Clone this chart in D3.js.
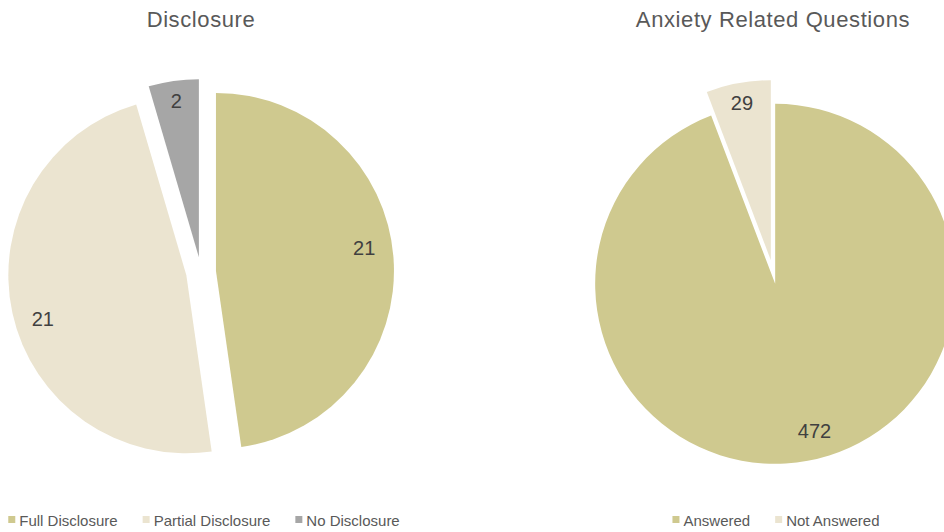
<!DOCTYPE html>
<html lang="en">
<head>
  <meta charset="UTF-8">
  <title>Disclosure / Anxiety</title>
  <style>
    body { margin: 0; background: #fff; }
    svg text { font-family: "Liberation Sans", Arial, sans-serif; }
  </style>
</head>
<body>
  <script src="https://d3js.org/d3.v7.min.js"></script>
  <script>
    // data
    const disclosureLabels = ["Full Disclosure", "Partial Disclosure", "No Disclosure"];
    const disclosureValues = [21, 21, 2];
    const anxietyLabels = ["Answered", "Not Answered"];
    const anxietyValues = [472, 29];

    const olive = "#cfc98f", beige = "#ebe4d0", grey = "#a6a6a6";

    const svgWidth = 944, svgHeight = 532;

    let svg = d3.select("body")
      .append("svg")
      .attr("width", svgWidth)
      .attr("height", svgHeight);

    function drawPie(opts) {
      let data = opts.labels.map((l, i) => ({ label: l, value: opts.values[i] }));
      let color = d3.scaleOrdinal().domain(opts.labels).range(opts.colors);

      let pie = d3.pie().sort(null).value(d => d.value);
      let arcs = pie(data);
      let arc = d3.arc().innerRadius(0).outerRadius(opts.r);

      // title
      svg.append("text")
        .attr("x", opts.cx)
        .attr("y", 27)
        .attr("text-anchor", "middle")
        .attr("font-size", 22)
        .attr("letter-spacing", 0.6)
        .attr("fill", "#595959")
        .text(opts.title);

      let g = svg.append("g")
        .attr("transform", "translate(" + opts.cx + "," + opts.cy + ")");

      let slice = g.selectAll("g.slice")
        .data(arcs)
        .join("g")
        .attr("class", "slice")
        .attr("transform", d => {
          let mid = (d.startAngle + d.endAngle) / 2;
          return "translate(" + (opts.explode * Math.sin(mid)) + "," + (-opts.explode * Math.cos(mid)) + ")";
        });

      slice.append("path")
        .attr("d", arc)
        .attr("fill", d => color(d.data.label));

      // inside-end labels; wide slices sit a little before the middle, like Excel does
      function labelPos(d) {
        let wide = d.endAngle - d.startAngle > Math.PI / 2;
        let a = (d.startAngle + d.endAngle) / 2 - (wide ? 0.08 : 0);
        let lr = opts.r - (wide ? 28 : 20);
        return [lr * Math.sin(a), -lr * Math.cos(a)];
      }

      slice.append("text")
        .attr("x", d => labelPos(d)[0])
        .attr("y", d => labelPos(d)[1])
        .attr("text-anchor", "middle")
        .attr("dominant-baseline", "central")
        .attr("font-size", 20)
        .attr("fill", "#404040")
        .text(d => d.data.value);

      // legend, centred under the pie
      let leg = svg.append("g");
      let x = 0;
      opts.labels.forEach((l, i) => {
        let item = leg.append("g").attr("transform", "translate(" + x + ",0)");
        item.append("rect")
          .attr("x", 0).attr("y", -4)
          .attr("width", 7).attr("height", 7)
          .attr("fill", color(l));
        let t = item.append("text")
          .attr("x", 11)
          .attr("y", 0)
          .attr("dominant-baseline", "central")
          .attr("font-size", 15)
          .attr("fill", "#595959")
          .text(l);
        x += 11 + t.node().getComputedTextLength() + 25;
      });
      let w = x - 25;
      leg.attr("transform", "translate(" + (opts.cx + 3 - w / 2) + ",520)");
    }

    drawPie({
      title: "Disclosure",
      labels: disclosureLabels,
      values: disclosureValues,
      colors: [olive, beige, grey],
      cx: 201, cy: 272, r: 178, explode: 15
    });

    drawPie({
      title: "Anxiety Related Questions",
      labels: anxietyLabels,
      values: anxietyValues,
      colors: [olive, beige],
      cx: 773, cy: 272, r: 180, explode: 12
    });
  </script>
</body>
</html>
